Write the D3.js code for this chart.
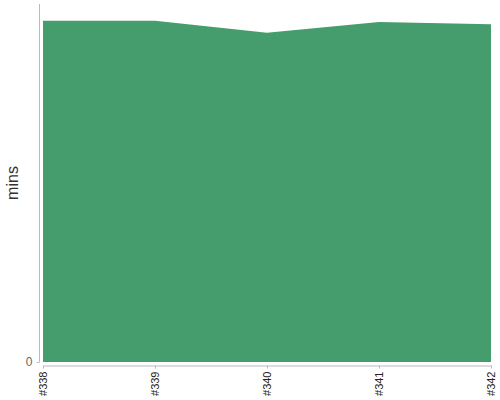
<!DOCTYPE html>
<html>
<head>
<meta charset="utf-8">
<script src="https://cdn.jsdelivr.net/npm/d3@7"></script>
<style>
  body { margin: 0; background: #fff; }
  svg { display: block; font-family: "Liberation Sans", Arial, sans-serif; }
  .axis path, .axis line { stroke: #bbb; }
</style>
</head>
<body>
<svg id="chart" width="500" height="400"></svg>
<script>
const builds = ["#338", "#339", "#340", "#341", "#342"];
const minutes = [57.2, 57.2, 55.2, 57.0, 56.6];
const yMax = 60;

const svg = d3.select("#chart");
const plotLeft = 43, plotRight = 491, plotTop = 4, plotBottom = 362;

const x = d3.scalePoint().domain(builds).range([plotLeft, plotRight]);
const y = d3.scaleLinear().domain([0, yMax]).range([plotBottom, plotTop]);

const area = d3.area()
  .x((d, i) => x(builds[i]))
  .y0(plotBottom)
  .y1((d) => y(d));

svg.append("path")
  .datum(minutes)
  .attr("fill", "#459d6d")
  .attr("d", area);

// y axis, offset a few px to the left
const yAxis = svg.append("g")
  .attr("class", "axis")
  .attr("transform", `translate(${plotLeft - 3.5},0)`)
  .call(d3.axisLeft(y).tickValues([0]).tickSize(3).tickSizeOuter(0));
yAxis.select(".domain").attr("d", `M0,${plotTop}V${plotBottom}`);
yAxis.selectAll("text").attr("fill", "#666").attr("font-size", 12).attr("x", -7);

// x axis, offset a few px below the area
const xAxis = svg.append("g")
  .attr("class", "axis")
  .attr("transform", `translate(0,${plotBottom + 3.5})`)
  .call(d3.axisBottom(x).tickSize(3).tickSizeOuter(0));
xAxis.selectAll("text")
  .attr("fill", "#222")
  .attr("font-size", 11)
  .attr("transform", "rotate(-90)")
  .attr("text-anchor", "end")
  .attr("x", -6)
  .attr("y", 0)
  .attr("dy", "0.35em");

svg.append("text")
  .attr("transform", `translate(18,${(plotTop + plotBottom) / 2}) rotate(-90)`)
  .attr("text-anchor", "middle")
  .attr("fill", "#333")
  .attr("font-size", 16)
  .text("mins");
</script>
</body>
</html>
